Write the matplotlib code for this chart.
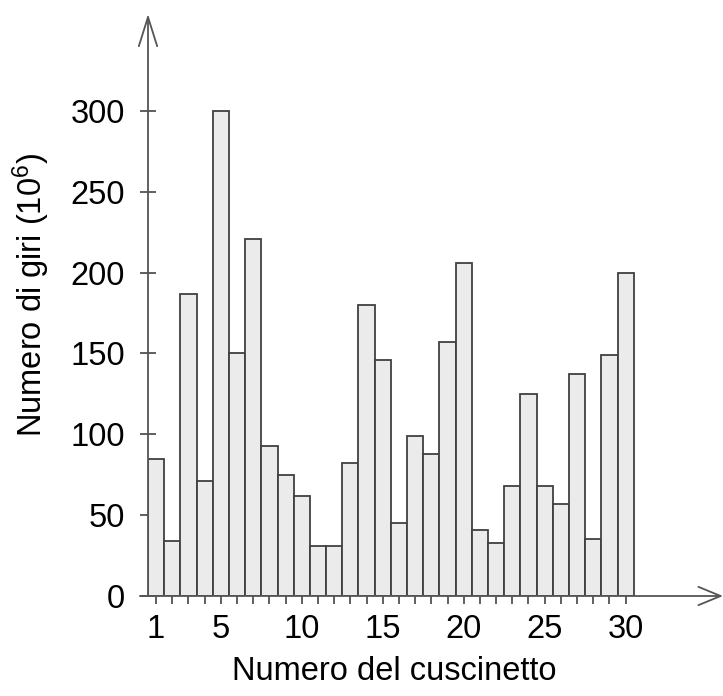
import matplotlib
matplotlib.use("Agg")
import matplotlib.pyplot as plt
import numpy as np

# numero di giri (milioni) per ciascun cuscinetto
cuscinetto = np.arange(1, 31)
giri = [85, 34, 187, 71, 300, 150, 221, 93, 75, 62,
        31, 31, 82, 180, 146, 45, 99, 88, 157, 206,
        41, 33, 68, 125, 68, 57, 137, 35, 149, 200]
yticks = [0, 50, 100, 150, 200, 250, 300]
xlabels_shown = [1, 5, 10, 15, 20, 25, 30]

plt.rcParams['font.family'] = ['Liberation Sans', 'DejaVu Sans']
plt.rcParams['mathtext.fontset'] = 'custom'
plt.rcParams['mathtext.rm'] = 'Liberation Sans'
plt.rcParams['mathtext.it'] = 'Liberation Sans:italic'

W, H = 723, 696
fs = 23.5
fig = plt.figure(figsize=(W / 100, H / 100), dpi=100)

# pixel layout: x=0.5 at px 148, y=0 at px 596
px_bar = 16.19
px_unit = 1.617
x0, y0 = 148, 596
axw, axh = W - x0, y0 - 14
ax = fig.add_axes([x0 / W, (H - y0) / H, axw / W, axh / H])
ytop = axh / px_unit
xright = 0.5 + axw / px_bar
ax.set_xlim(0.5, xright)
ax.set_ylim(0, ytop)

for s in ax.spines.values():
    s.set_visible(False)

axcol = '#555555'
ax.bar(cuscinetto, giri, width=1, color='#ebebeb', edgecolor='#404040',
       linewidth=1.3, zorder=2)

# assi con frecce
ax.annotate('', xy=(0.5, ytop), xytext=(0.5, 0), annotation_clip=False,
            arrowprops=dict(arrowstyle='->,head_length=1.05,head_width=0.33',
                            mutation_scale=20, color=axcol, lw=1.3,
                            shrinkA=0, shrinkB=0), zorder=3)
ax.annotate('', xy=(xright, 0), xytext=(0.0, 0), annotation_clip=False,
            arrowprops=dict(arrowstyle='->,head_length=0.8,head_width=0.33',
                            mutation_scale=20, color=axcol, lw=1.3,
                            shrinkA=0, shrinkB=0), zorder=3)

ax.set_xticks(cuscinetto)
ax.set_xticklabels([str(c) if c in xlabels_shown else '' for c in cuscinetto])
ax.set_yticks(yticks)
ax.set_yticklabels([str(v) for v in yticks])
ax.tick_params(axis='x', direction='out', length=6, width=1.2, color='#444444',
               labelsize=fs, pad=7)
ax.tick_params(axis='y', direction='inout', length=11, width=1.2, color='#444444',
               labelsize=fs, pad=11)

ax.set_xlabel('Numero del cuscinetto', fontsize=fs)
ax.xaxis.set_label_coords((394 - x0) / axw, -(656 - y0) / axh)
fig.text(31 / W, 1 - 295 / H, 'Numero di giri (10$^6$)', fontsize=fs,
         rotation=90, ha='center', va='center')

fig.savefig('out.png', dpi=100)
